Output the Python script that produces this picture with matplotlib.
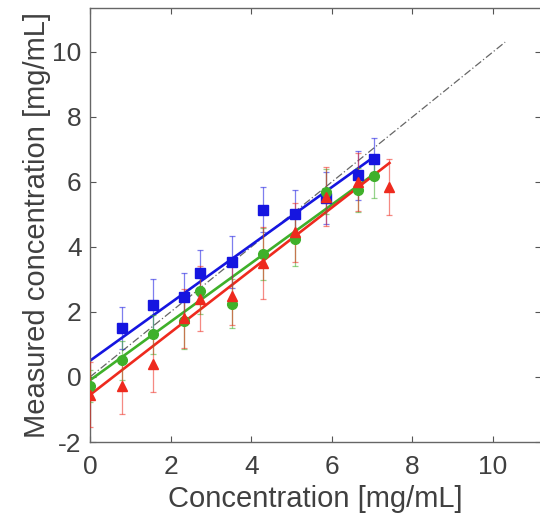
import matplotlib
matplotlib.use("Agg")
import matplotlib.pyplot as plt
import numpy as np

plt.rcParams['font.family'] = ['Liberation Sans', 'DejaVu Sans']
plt.rcParams['axes.unicode_minus'] = False

# ---- data ----
x_blue = [0.79, 1.56, 2.33, 2.73, 3.52, 4.30, 5.09, 5.85, 6.64, 7.05]
y_blue = [1.50, 2.20, 2.45, 3.20, 3.55, 5.15, 5.00, 5.50, 6.20, 6.70]
e_blue = [0.65, 0.80, 0.75, 0.70, 0.80, 0.70, 0.75, 0.80, 0.75, 0.65]

x_green = [0.00, 0.79, 1.56, 2.33, 2.73, 3.52, 4.30, 5.09, 5.85, 6.64, 7.05]
y_green = [-0.28, 0.52, 1.32, 1.72, 2.65, 2.25, 3.78, 4.25, 5.70, 5.75, 6.18]
e_green = [0.50, 0.60, 0.60, 0.85, 0.70, 0.75, 0.80, 0.85, 0.70, 0.67, 0.66]

x_red = [0.00, 0.79, 1.56, 2.33, 2.73, 3.52, 4.30, 5.09, 5.85, 6.64, 7.43]
y_red = [-0.55, -0.28, 0.40, 1.80, 2.40, 2.50, 3.50, 4.45, 5.55, 6.00, 5.85]
e_red = [1.00, 0.85, 0.85, 0.90, 1.00, 0.90, 1.10, 0.90, 0.90, 0.90, 0.86]

# linear fits: (slope, intercept, x_end)
fit_blue = (0.89, 0.50, 7.05)
fit_green = (0.90, -0.10, 7.05)
fit_red = (0.96, -0.55, 7.43)

identity_end = 10.3

x_ticks = [0, 2, 4, 6, 8, 10]
y_ticks = [-2, 0, 2, 4, 6, 8, 10]
x_label = "Concentration [mg/mL]"
y_label = "Measured concentration [mg/mL]"

# ---- figure ----
fig = plt.figure(figsize=(5.40, 5.24), dpi=100)
ax = fig.add_axes([90/540, 1 - 442/524, 451/540, 434/524])

txt = '#404040'
ax.plot([0, identity_end], [0, identity_end], color='#666666', lw=0.9,
        ls=(0, (6, 2, 1, 2)), zorder=1)

series = [
    (x_blue, y_blue, e_blue, fit_blue, '#1515e0', 's', 6.5),
    (x_green, y_green, e_green, fit_green, '#3fb02a', 'o', 7),
    (x_red, y_red, e_red, fit_red, '#ee2a1e', '^', 7.5),
]
for xs, ys, es, fit, col, mk, ms in series:
    m, b, xe = fit
    xf = np.array([0, xe])
    ax.plot(xf, m * xf + b, color=col, lw=1.9, zorder=2)
    ax.errorbar(xs, ys, yerr=es, fmt='none', ecolor=col, alpha=0.55,
                elinewidth=0.9, capsize=2.5, capthick=0.9, zorder=3)
    ax.plot(xs, ys, ls='none', marker=mk, ms=ms, color=col,
            markeredgecolor=col, zorder=4)

ax.set_xlim(0, 11.19)
ax.set_ylim(-2, 11.35)
ax.set_xticks(x_ticks)
ax.set_yticks(y_ticks)
ax.tick_params(direction='in', length=4, width=0.8, colors='#555555',
               labelcolor=txt, labelsize=19, top=True, right=True)
ax.tick_params(axis='x', pad=9)
ax.tick_params(axis='y', pad=6)
for s in ax.spines.values():
    s.set_color('#666666')
    s.set_linewidth(1.0)

ax.set_xlabel(x_label, fontsize=21, color=txt, labelpad=5)
ax.set_ylabel(y_label, fontsize=21, color=txt, labelpad=1)

fig.savefig('out.png', dpi=100)
